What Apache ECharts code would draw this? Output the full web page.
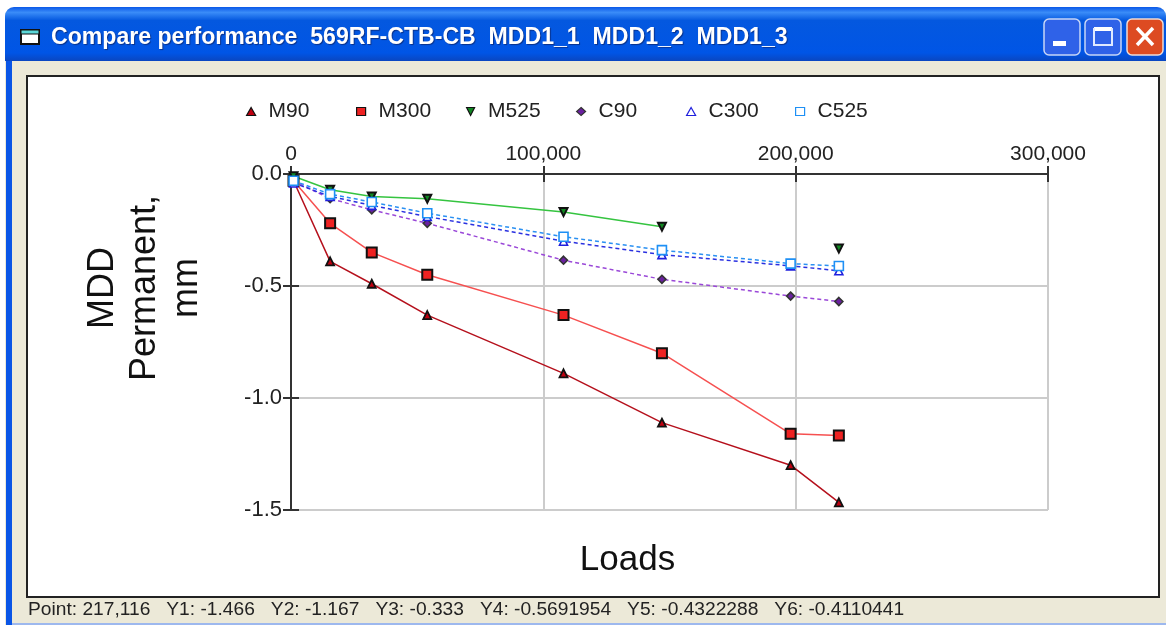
<!DOCTYPE html>
<html><head><meta charset="utf-8">
<style>html,body{margin:0;padding:0;background:#fff}#c{width:1166px;height:625px}</style>
<script src="https://cdn.jsdelivr.net/npm/echarts@6/dist/echarts.min.js"></script>
</head><body><div id="c"></div>
<script>
const loads=[1000,15500,32000,54000,108000,147000,198000,217116];
const m90=[-0.03,-0.39,-0.49,-0.63,-0.89,-1.11,-1.30,-1.466];
const m300=[-0.03,-0.22,-0.35,-0.45,-0.63,-0.80,-1.16,-1.167];
const m525=[-0.01,-0.07,-0.10,-0.11,-0.17,-0.235,null,-0.333];
const c90=[-0.03,-0.11,-0.16,-0.22,-0.385,-0.47,-0.545,-0.5691954];
const c300=[-0.04,-0.10,-0.14,-0.19,-0.30,-0.36,-0.41,-0.4322288];
const c525=[-0.03,-0.09,-0.125,-0.175,-0.28,-0.34,-0.40,-0.4110441];
const xMin=0,xMax=300000,xStep=100000,yMin=-1.5,yMax=0,yStep=0.5;
const titleText='Compare performance  569RF-CTB-CB  MDD1_1  MDD1_2  MDD1_3';
const statusText='Point: 217,116   Y1: -1.466   Y2: -1.167   Y3: -0.333   Y4: -0.5691954   Y5: -0.4322288   Y6: -0.4110441';
const FONT='"Liberation Sans", Arial, sans-serif';
const pair=a=>loads.map((x,i)=>[x,a[i]]);
function ser(name,data,line,dash,symbol,size,fill,border,bw,rot){
  return {name,type:'line',data:pair(data),xAxisIndex:0,yAxisIndex:0,symbol,symbolSize:size,symbolRotate:rot||0,
    showAllSymbol:true,connectNulls:false,clip:false,
    lineStyle:{color:line,width:1.5,type:dash?[4,3]:'solid'},
    itemStyle:{color:fill,borderColor:border,borderWidth:bw,opacity:1}};
}
const series=[
  ser('M90',m90,'#b5101c',false,'triangle',8,'#c00010','#111',1.8),
  ser('M300',m300,'#f65050',false,'rect',10,'#ee2222','#111',2),
  ser('M525',m525,'#35c440',false,'triangle',8,'#118822','#111',2,180),
  ser('C90',c90,'#9a48d8',true,'diamond',8,'#6a20a0','#333',1.6),
  ser('C300',c300,'#2a30e0',true,'triangle',8,'#ffffff','#2020dd',1.6),
  ser('C525',c525,'#2a90f2',true,'rect',9,'#ffffff','#1e90f5',1.6)
];
const legendLeft=[246,356,466,576,686,795];
const legendIcon=['triangle','rect','path://M0,0L10,0L5,10Z','diamond','triangle','rect'];
const legend=series.map((s,i)=>({show:true,data:[{name:s.name,icon:legendIcon[i],itemStyle:{borderWidth:1.2,borderColor:s.itemStyle.borderColor,color:s.itemStyle.color}}],
  left:legendLeft[i],top:101,padding:0,itemWidth:9,itemHeight:8,itemGap:9,selectedMode:false,
  textStyle:{fontFamily:FONT,fontSize:21,color:'#222',padding:[0,0,0,8]}}));
const base={type:'value',min:xMin,max:xMax,interval:xStep,gridIndex:0};
const chrome=[
 {type:'rect',z:-10,shape:{x:5,y:7,width:1161,height:618,r:[9,9,0,0]},style:{fill:'#ece9d8'}},
 {type:'rect',z:-9,shape:{x:6,y:55,width:6,height:570},style:{fill:'#0a55e6'}},
 {type:'rect',z:-9,shape:{x:12,y:623,width:1154,height:2},style:{fill:'#9db8ee'}},
 {type:'rect',z:-9,shape:{x:5,y:7,width:1161,height:54,r:[9,9,0,0]},style:{fill:new echarts.graphic.LinearGradient(0,0,0,1,[{offset:0,color:'#0a58e8'},{offset:0.1,color:'#3a8cf8'},{offset:0.25,color:'#0458df'},{offset:0.85,color:'#0055e6'},{offset:1,color:'#0a46c0'}])}},
 {type:'rect',z:-8,shape:{x:27,y:76,width:1132,height:521},style:{fill:'#ffffff',stroke:'#222',lineWidth:2}},
 {type:'rect',z:-7,shape:{x:21,y:30,width:18,height:14},style:{fill:'#fff',stroke:'#111',lineWidth:2}},
 {type:'rect',z:-7,shape:{x:21,y:30,width:18,height:4},style:{fill:'#5ad6d6',stroke:'#111',lineWidth:1}},
 {type:'text',z:-7,style:{x:51,y:38,text:titleText,fill:'#fff',font:'bold 23.1px '+FONT,textVerticalAlign:'middle',textShadowColor:'#08308a',textShadowBlur:1,textShadowOffsetX:1,textShadowOffsetY:1}},
 {type:'rect',z:-7,shape:{x:1044,y:19,width:36,height:36,r:5},style:{fill:'#2f62e8',stroke:'#c8d6f6',lineWidth:1.5}},
 {type:'line',z:-6,shape:{x1:1053,y1:43.5,x2:1066,y2:43.5},style:{stroke:'#fff',lineWidth:5}},
 {type:'rect',z:-7,shape:{x:1085,y:19,width:36,height:36,r:5},style:{fill:'#2f62e8',stroke:'#c8d6f6',lineWidth:1.5}},
 {type:'line',z:-6,shape:{x1:1094,y1:29,x2:1112,y2:29},style:{stroke:'#fff',lineWidth:4}},
 {type:'line',z:-6,shape:{x1:1094,y1:45,x2:1112,y2:45},style:{stroke:'#dfe9ff',lineWidth:2}},
 {type:'line',z:-6,shape:{x1:1094,y1:28,x2:1094,y2:46},style:{stroke:'#dfe9ff',lineWidth:2}},
 {type:'line',z:-6,shape:{x1:1112,y1:28,x2:1112,y2:46},style:{stroke:'#dfe9ff',lineWidth:2}},
 {type:'rect',z:-7,shape:{x:1127,y:19,width:36,height:36,r:5},style:{fill:'#dd4b22',stroke:'#f0dcd4',lineWidth:1.5}},
 {type:'line',z:-6,shape:{x1:1137,y1:28,x2:1153,y2:45},style:{stroke:'#fff',lineWidth:3.5}},
 {type:'line',z:-6,shape:{x1:1153,y1:28,x2:1137,y2:45},style:{stroke:'#fff',lineWidth:3.5}},
 {type:'text',z:-7,style:{x:28,y:610,text:statusText,fill:'#222',font:'19.2px '+FONT,textVerticalAlign:'middle'}}
];
const chart=echarts.init(document.getElementById('c'),null,{renderer:'canvas'});
chart.setOption({
  animation:false,backgroundColor:'#fff',
  graphic:{elements:chrome},
  legend,
  grid:{left:291,top:174,width:757,height:336,containLabel:false},
  xAxis:[
   {...base,position:'top',axisLine:{onZero:false,lineStyle:{color:'#333',width:2}},axisTick:{show:true,length:8,lineStyle:{color:'#333',width:2}},
    axisLabel:{show:true,fontFamily:FONT,fontSize:21,color:'#222',margin:9,formatter:v=>v.toLocaleString('en-US')},
    splitLine:{show:true,lineStyle:{color:'#cccccc',width:2}}},
   {...base,position:'top',axisLine:{show:false,onZero:false},axisTick:{show:true,inside:true,length:8,lineStyle:{color:'#333',width:2}},axisLabel:{show:false},splitLine:{show:false}},
   {...base,position:'bottom',axisLine:{show:false,onZero:false},axisTick:{show:false},axisLabel:{show:false},splitLine:{show:false},
    name:'Loads',nameLocation:'middle',nameGap:33,nameTextStyle:{fontFamily:FONT,fontSize:35,color:'#111',padding:[0,84,0,0]}}
  ],
  yAxis:[
   {type:'value',min:yMin,max:yMax,interval:yStep,position:'left',axisLine:{onZero:false,lineStyle:{color:'#333',width:2}},axisTick:{show:true,length:8,lineStyle:{color:'#333',width:2}},
    axisLabel:{fontFamily:FONT,fontSize:22,color:'#222',margin:9,formatter:v=>v.toFixed(1)},
    splitLine:{show:true,lineStyle:{color:'#cccccc',width:2}},
    name:'MDD\nPermanent,\nmm',nameLocation:'middle',nameRotate:90,nameGap:83,
    nameTextStyle:{fontFamily:FONT,fontSize:36,lineHeight:42,color:'#111',align:'center',padding:[0,0,0,108]}},
   {type:'value',min:yMin,max:yMax,interval:yStep,position:'left',axisLine:{show:false,onZero:false},axisTick:{show:true,inside:true,length:8,lineStyle:{color:'#333',width:2}},axisLabel:{show:false},splitLine:{show:false}}
  ],
  series
});
</script></body></html>
